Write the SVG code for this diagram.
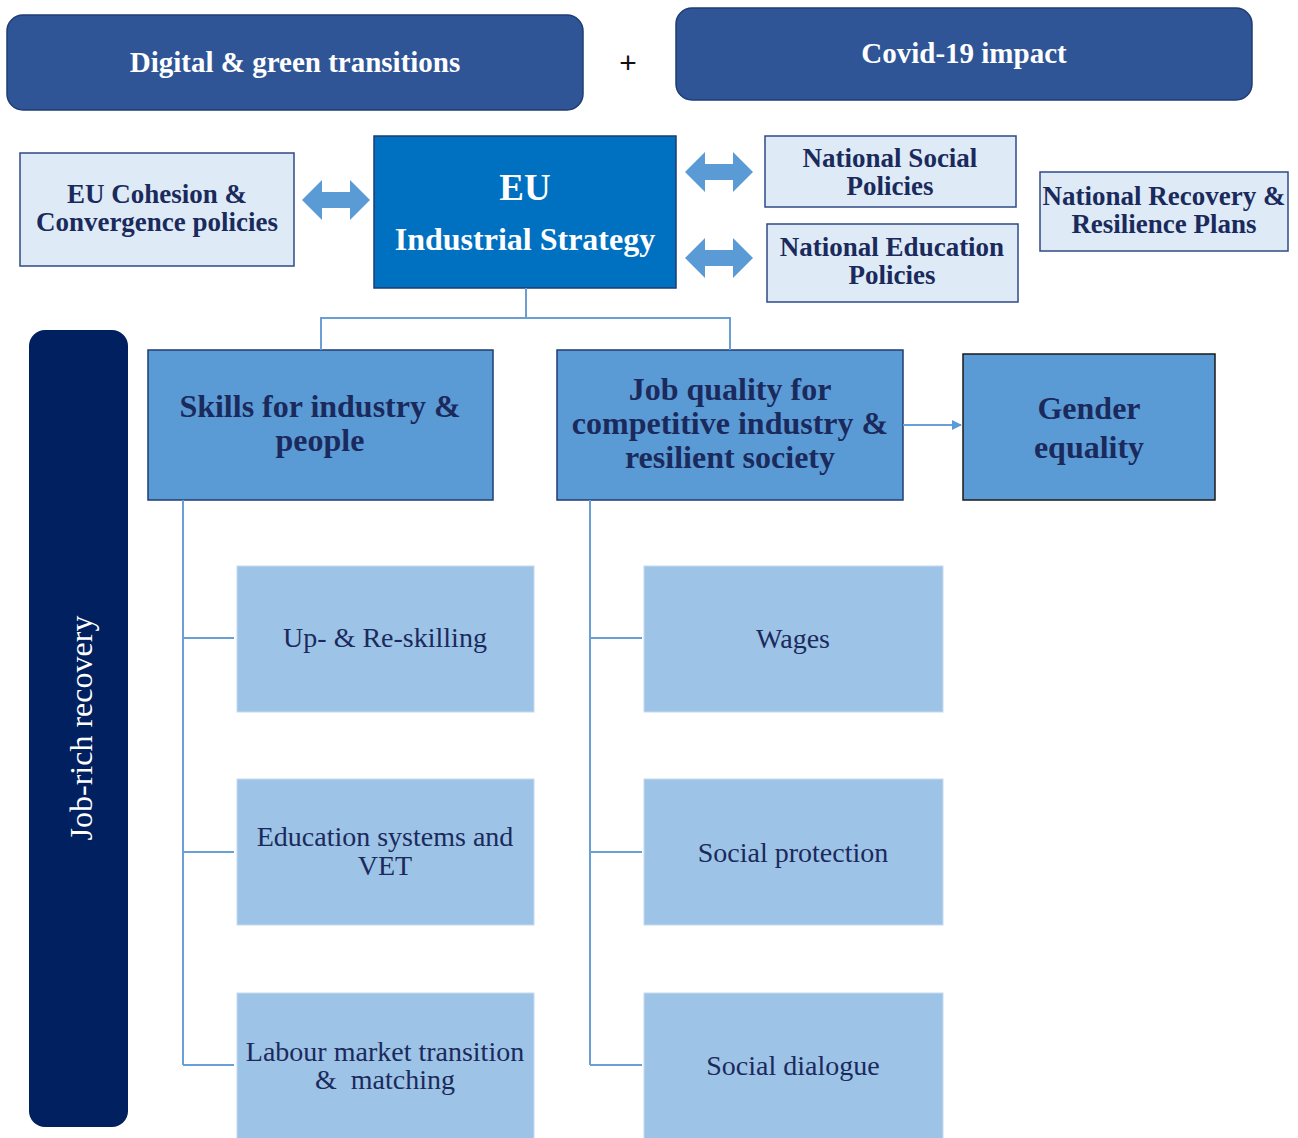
<svg xmlns="http://www.w3.org/2000/svg" width="1298" height="1138" viewBox="0 0 1298 1138">
  <style>
    text { font-family: "Liberation Serif", "Times New Roman", serif; }
    .banner { fill: #2F5597; stroke: #1F3C73; stroke-width: 1.5; }
    .banner-txt { font-weight: bold; font-size: 29px; fill: #FFFFFF; text-anchor: middle; }
    .pale { fill: #DEEAF6; stroke: #2F4A86; stroke-width: 1.5; }
    .pale-txt { font-weight: bold; font-size: 27px; fill: #1B2A5C; text-anchor: middle; }
    .core { fill: #0070C0; stroke: #1F3C73; stroke-width: 1.5; }
    .core-txt { font-weight: bold; fill: #FFFFFF; text-anchor: middle; }
    .pillar { fill: #5B9BD5; stroke: #1F3C73; stroke-width: 1.5; }
    .pillar-txt { font-weight: bold; font-size: 32px; fill: #1B2A5C; text-anchor: middle; }
    .leaf { fill: #9DC3E6; stroke: #C5DAF0; stroke-width: 1; }
    .leaf-txt { font-size: 28px; fill: #1B2A5C; text-anchor: middle; }
    .link { fill: none; stroke: #6A9FD6; stroke-width: 2; }
    .dbl { fill: #5B9BD5; }
  </style>
  <defs>
    <marker id="tip" markerWidth="10" markerHeight="10" refX="9" refY="5" orient="auto" markerUnits="userSpaceOnUse">
      <path d="M0,0 L10,5 L0,10 Z" fill="#5B9BD5"/>
    </marker>
    <!-- block double arrow, centred on origin, 68 wide -->
    <path id="dblArrow" d="M-34,0 L-14,-20 L-14,-8 L14,-8 L14,-20 L34,0 L14,20 L14,8 L-14,8 L-14,20 Z"/>
  </defs>

  <g id="digital-green">
    <rect class="banner" x="7" y="15" width="576" height="95" rx="16"/>
    <text class="banner-txt" x="295" y="72">Digital &amp; green transitions</text>
  </g>
  <text id="plus" x="628" y="73" style="font-family: 'Liberation Sans', Arial, sans-serif" font-size="30" text-anchor="middle" fill="#111111">+</text>
  <g id="covid">
    <rect class="banner" x="676" y="8" width="576" height="92" rx="16"/>
    <text class="banner-txt" x="964" y="63">Covid-19 impact</text>
  </g>

  <g id="cohesion">
    <rect class="pale" x="20" y="153" width="274" height="113"/>
    <text class="pale-txt" x="157" y="203">EU Cohesion &amp;</text>
    <text class="pale-txt" x="157" y="231">Convergence policies</text>
  </g>

  <g id="industrial-strategy">
    <rect class="core" x="374" y="136" width="302" height="152"/>
    <text class="core-txt" x="525" y="200" font-size="37">EU</text>
    <text class="core-txt" x="525" y="250" font-size="32">Industrial Strategy</text>
  </g>

  <g id="social-policies">
    <rect class="pale" x="765" y="136" width="251" height="71"/>
    <text class="pale-txt" x="890" y="167">National Social</text>
    <text class="pale-txt" x="890" y="195">Policies</text>
  </g>
  <g id="education-policies">
    <rect class="pale" x="767" y="224" width="251" height="78"/>
    <text class="pale-txt" x="892" y="256">National Education</text>
    <text class="pale-txt" x="892" y="284">Policies</text>
  </g>
  <g id="recovery-plans">
    <rect class="pale" x="1040" y="172" width="248" height="79"/>
    <text class="pale-txt" x="1164" y="205">National Recovery &amp;</text>
    <text class="pale-txt" x="1164" y="233">Resilience Plans</text>
  </g>

  <g id="skills">
    <rect class="pillar" x="148" y="350" width="345" height="150"/>
    <text class="pillar-txt" x="320" y="417">Skills for industry &amp;</text>
    <text class="pillar-txt" x="320" y="451">people</text>
  </g>
  <g id="job-quality">
    <rect class="pillar" x="557" y="350" width="346" height="150"/>
    <text class="pillar-txt" x="730" y="400">Job quality for</text>
    <text class="pillar-txt" x="730" y="434">competitive industry &amp;</text>
    <text class="pillar-txt" x="730" y="468">resilient society</text>
  </g>
  <g id="gender">
    <rect class="pillar" x="963" y="354" width="252" height="146" style="stroke:#1A1A1A"/>
    <text class="pillar-txt" x="1089" y="419">Gender</text>
    <text class="pillar-txt" x="1089" y="458">equality</text>
  </g>

  <g id="job-rich">
    <rect x="29" y="330" width="99" height="797" rx="16" fill="#002060"/>
    <text transform="translate(92,728) rotate(-90)" font-size="32" fill="#FFFFFF" text-anchor="middle">Job-rich recovery</text>
  </g>

  <g id="upskilling">
    <rect class="leaf" x="237" y="566" width="297" height="146"/>
    <text class="leaf-txt" x="385" y="647">Up- &amp; Re-skilling</text>
  </g>
  <g id="education-vet">
    <rect class="leaf" x="237" y="779" width="297" height="146"/>
    <text class="leaf-txt" x="385" y="846">Education systems and</text>
    <text class="leaf-txt" x="385" y="875">VET</text>
  </g>
  <g id="labour-market">
    <rect class="leaf" x="237" y="993" width="297" height="150"/>
    <text class="leaf-txt" x="385" y="1061">Labour market transition</text>
    <text class="leaf-txt" x="385" y="1089" xml:space="preserve">&amp;  matching</text>
  </g>
  <g id="wages">
    <rect class="leaf" x="644" y="566" width="299" height="146"/>
    <text class="leaf-txt" x="793" y="648">Wages</text>
  </g>
  <g id="social-protection">
    <rect class="leaf" x="644" y="779" width="299" height="146"/>
    <text class="leaf-txt" x="793" y="862">Social protection</text>
  </g>
  <g id="social-dialogue">
    <rect class="leaf" x="644" y="993" width="299" height="150"/>
    <text class="leaf-txt" x="793" y="1075">Social dialogue</text>
  </g>

  <g id="connectors">
    <use href="#dblArrow" class="dbl" x="336" y="200"/>
    <use href="#dblArrow" class="dbl" x="719" y="172"/>
    <use href="#dblArrow" class="dbl" x="719" y="258"/>
    <path class="link" d="M526,288 V318 M321,350 V318 H730 V350"/>
    <path class="link" d="M903,425 H961" marker-end="url(#tip)"/>
    <path class="link" d="M183,500 V1065 M183,638 H234 M183,852 H234 M183,1065 H234"/>
    <path class="link" d="M590,500 V1065 M590,638 H642 M590,852 H642 M590,1065 H642"/>
  </g>
</svg>
